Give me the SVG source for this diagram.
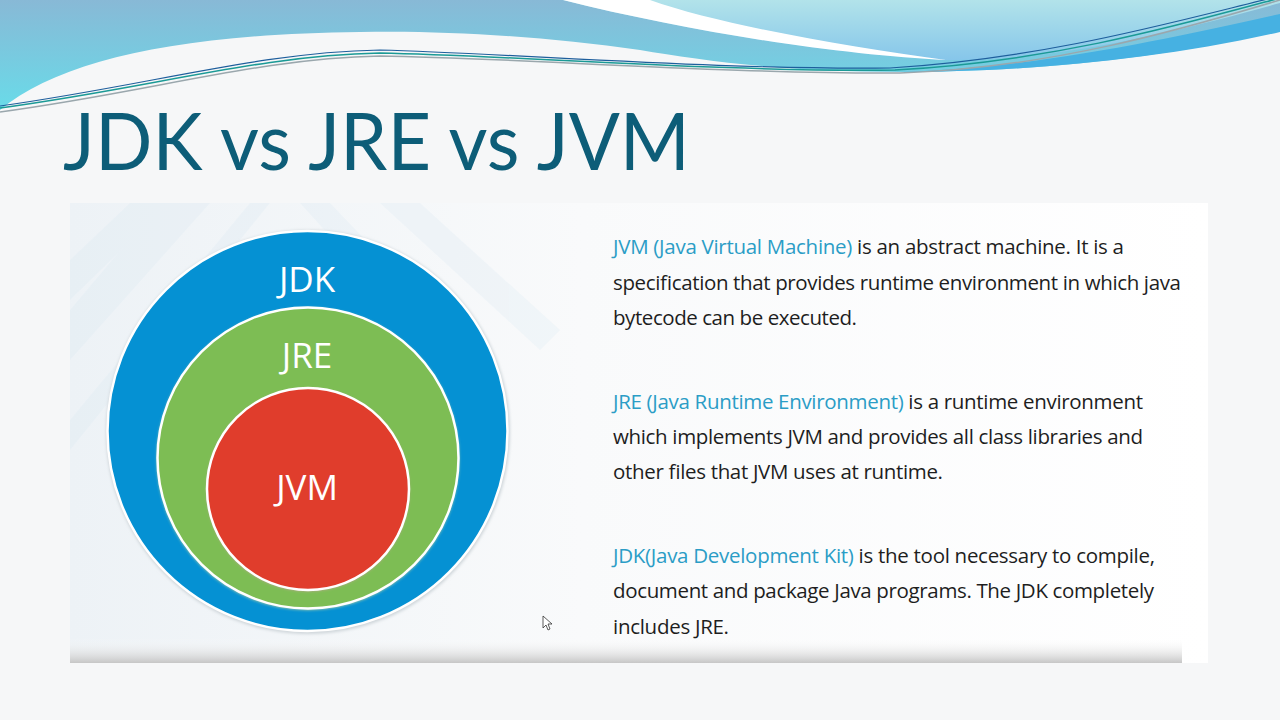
<svg xmlns="http://www.w3.org/2000/svg" width="1280" height="720" viewBox="0 0 1280 720">
<defs>
<style>
.t{font-family:"Open Sans","Liberation Sans",sans-serif;font-size:20.5px;fill:#1e1e1e}
.k{fill:#2b9dc6}
.lbl{font-family:"Open Sans","Liberation Sans",sans-serif;font-size:35px;fill:#ffffff;text-anchor:middle}
.ring{stroke:#ffffff;stroke-width:2.5}
</style>
<linearGradient id="gMain" x1="0" y1="0" x2="0" y2="1">
<stop offset="0" stop-color="#88b9d6"/>
<stop offset="1" stop-color="#69dbe9"/>
</linearGradient>
<linearGradient id="gRight" x1="0" y1="0" x2="0" y2="1">
<stop offset="0" stop-color="#b2e3ea"/>
<stop offset="1" stop-color="#86c6ea"/>
</linearGradient>
<linearGradient id="gBand" x1="0" y1="0" x2="0" y2="1">
<stop offset="0" stop-color="#ffffff" stop-opacity="0"/>
<stop offset="1" stop-color="#c6c6c6"/>
</linearGradient>
<linearGradient id="gPanel" x1="0" y1="0" x2="1" y2="0">
<stop offset="0" stop-color="#edf2f6"/>
<stop offset="0.45" stop-color="#f9fafb"/>
<stop offset="1" stop-color="#ffffff"/>
</linearGradient>
<filter id="sh" x="-10%" y="-10%" width="120%" height="120%">
<feGaussianBlur stdDeviation="1.5"/>
</filter>
</defs>

<rect width="1280" height="720" fill="#f6f7f8"/>

<g id="header">
<path d="M0,0 H1280 V30 C1150,62 1010,72 900,72 C780,72 700,60 640,50 C540,36 440,30 360,32 C180,34 60,60 0,110 Z" fill="url(#gMain)"/>
<path d="M563,0 C690,32 840,55 946,60 C1060,62 1190,28 1280,3 V0 Z" fill="url(#gRight)"/>
<path d="M563,0 C690,32 840,55 946,60 C850,47 720,25 650,0 Z" fill="#ffffff"/>
<path d="M900,72 C1040,68 1170,38 1280,14 V32 C1150,62 1010,72 900,72 Z" fill="#46b1e2"/>
<path d="M0,112 C150,92 260,58 380,56 C520,58 720,74 900,73 C1050,68 1180,30 1280,0" fill="none" stroke="#9aa7ad" stroke-width="1.5"/>
<path d="M0,108 C150,88 260,55 380,53 C520,56 720,72 895,70 C1050,62 1180,25 1280,-2" fill="none" stroke="#1b9a96" stroke-width="1.5"/>
<path d="M0,106 C150,85 260,52 380,50 C520,54 720,70 890,68 C1050,58 1180,20 1280,-4" fill="none" stroke="#1e5e9c" stroke-width="1.2"/>
</g>

<g id="title">
<text x="63" y="170" font-family="Lato,'Open Sans','Liberation Sans',sans-serif" font-size="80" fill="#0d5d78" textLength="627" lengthAdjust="spacingAndGlyphs">JDK vs JRE vs JVM</text>
</g>

<g id="panel">
<rect x="70" y="203" width="1138" height="460" fill="url(#gPanel)"/>
<g opacity="0.22" fill="#d6e6f1">
<polygon points="70,260 130,203 170,203 70,300"/>
<polygon points="160,203 210,203 70,360 70,310"/>
<polygon points="300,203 330,203 480,360 460,380"/>
<polygon points="380,203 420,203 560,330 540,350"/>
<polygon points="70,420 250,203 270,203 70,450"/>
</g>
<rect x="70" y="638" width="1112" height="25" fill="url(#gBand)"/>
</g>

<g id="jdk">
<circle cx="308" cy="432" r="202" fill="#cfd6da" filter="url(#sh)"/>
<circle cx="307.5" cy="431" r="200" fill="#0591d3" class="ring"/>
<text class="lbl" x="307" y="292">JDK</text>
</g>
<g id="jre">
<circle cx="308" cy="459" r="151" fill="#b9d3a6" filter="url(#sh)"/>
<circle cx="308" cy="458" r="150.5" fill="#7dbd54" class="ring"/>
<text class="lbl" x="307" y="368">JRE</text>
</g>
<g id="jvm">
<circle cx="308" cy="490" r="101" fill="#c9a29c" filter="url(#sh)"/>
<circle cx="308" cy="489" r="101" fill="#e03d2c" class="ring"/>
<text class="lbl" x="307" y="500">JVM</text>
</g>

<g id="text">
<text class="t" x="613" y="254" textLength="511" lengthAdjust="spacing"><tspan class="k">JVM (Java Virtual Machine)</tspan> is an abstract machine. It is a</text>
<text class="t" x="613" y="290" textLength="568" lengthAdjust="spacing">specification that provides runtime environment in which java</text>
<text class="t" x="613" y="325" textLength="244" lengthAdjust="spacing">bytecode can be executed.</text>

<text class="t" x="613" y="409" textLength="530" lengthAdjust="spacing"><tspan class="k">JRE (Java Runtime Environment)</tspan> is a runtime environment</text>
<text class="t" x="613" y="444" textLength="530" lengthAdjust="spacing">which implements JVM and provides all class libraries and</text>
<text class="t" x="613" y="479" textLength="330" lengthAdjust="spacing">other files that JVM uses at runtime.</text>

<text class="t" x="613" y="563" textLength="542" lengthAdjust="spacing"><tspan class="k">JDK(Java Development Kit)</tspan> is the tool necessary to compile,</text>
<text class="t" x="613" y="598" textLength="541" lengthAdjust="spacing">document and package Java programs. The JDK completely</text>
<text class="t" x="613" y="634" textLength="116" lengthAdjust="spacing">includes JRE.</text>
</g>

<g id="cursor">
<polygon points="543,616 543,628 546,625 548,630 550,629 548,624 552,624" fill="#ffffff" stroke="#333333" stroke-width="0.8"/>
</g>
</svg>
